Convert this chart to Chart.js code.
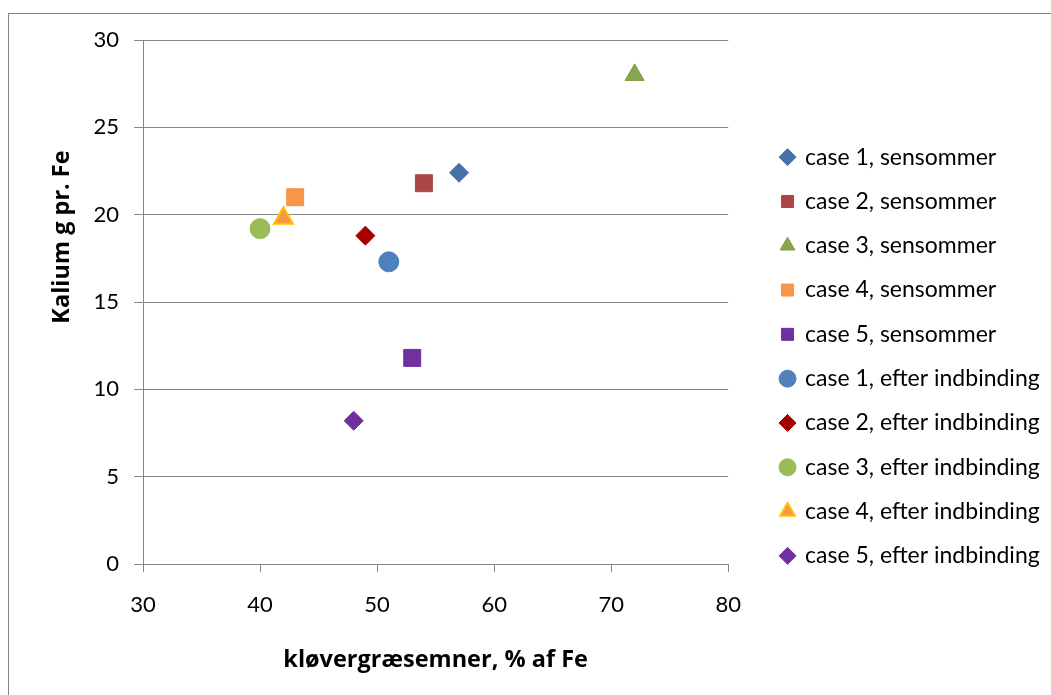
<!DOCTYPE html>
<html>
<head>
<meta charset="utf-8">
<script src="https://cdn.jsdelivr.net/npm/chart.js@4/dist/chart.umd.min.js"></script>
<style>
  html, body { margin: 0; padding: 0; background: #fff; }
  canvas { display: block; }
</style>
</head>
<body>
<canvas id="kalium" width="1051" height="695"></canvas>
<script>
// data
const seriesNames = [
    'case 1, sensommer', 'case 2, sensommer', 'case 3, sensommer', 'case 4, sensommer', 'case 5, sensommer',
    'case 1, efter indbinding', 'case 2, efter indbinding', 'case 3, efter indbinding', 'case 4, efter indbinding', 'case 5, efter indbinding'
];
const kloverValues = [57, 54, 72, 43, 53, 51, 49, 40, 42, 48];
const kaliumValues = [22.4, 21.8, 28, 21, 11.8, 17.3, 18.8, 19.2, 19.8, 8.2];
const xTicks = [30, 40, 50, 60, 70, 80];
const yTicks = [0, 5, 10, 15, 20, 25, 30];

const markerStyles = ['rectRot', 'rect', 'triangle', 'rect', 'rect', 'circle', 'rectRot', 'circle', 'triangle', 'rectRot'];
const fillColors = ['#4572A7', '#AA4643', '#89A54E', '#F79646', '#7030A0', '#4F81BD', '#A50000', '#9BBB59', '#F79646', '#7030A0'];
const edgeColors = ['#4572A7', '#AA4643', '#7E9A45', '#F79646', '#7030A0', '#4F81BD', '#A50000', '#9BBB59', '#FFC000', '#7030A0'];
const sizes = { rectRot: 9.5, rect: 12, triangle: 11, circle: 10 };

const FONT = 'Lato';
const TITLE_FONT = 'Open Sans';
Chart.defaults.font.family = FONT;
Chart.defaults.color = '#000';

const datasets = seriesNames.map(function (name, i) {
    return {
        label: name,
        data: [{ x: kloverValues[i], y: kaliumValues[i] }],
        pointStyle: markerStyles[i],
        pointRadius: sizes[markerStyles[i]],
        pointHoverRadius: sizes[markerStyles[i]],
        backgroundColor: fillColors[i],
        borderColor: edgeColors[i],
        borderWidth: i === 8 ? 2 : 1,
    };
});

// frame round the whole chart and the y title, placed like the original
const frameAndTitle = {
    id: 'frameAndTitle',
    beforeDraw: function (chart) {
        const c = chart.ctx;
        c.save();
        c.fillStyle = '#fff';
        c.fillRect(0, 0, chart.width, chart.height);
        c.strokeStyle = '#868686';
        c.lineWidth = 1;
        c.strokeRect(8.5, 13.5, 1200, 900);
        c.restore();
    },
    afterDraw: function (chart) {
        const c = chart.ctx;
        c.save();
        c.translate(62, 237);
        c.rotate(-Math.PI / 2);
        c.font = 'bold 23.5px "' + TITLE_FONT + '"';
        c.fillStyle = '#000';
        c.textAlign = 'center';
        c.textBaseline = 'middle';
        c.fillText('Kalium g pr. Fe', 0, 0);
        c.restore();
    },
    afterLayout: function (chart) {
        // legend sits a bit right of the plot and a little above centre
        // (its box is clipped, so widen it too)
        chart.legend.left += 32;
        chart.legend.right += 90;
        chart.legend.top -= 11;
        chart.legend.bottom -= 11;
    }
};

var ctx = document.getElementById('kalium');
var myChart = new Chart(ctx, {
    type: 'scatter',
    plugins: [frameAndTitle],
    data: { datasets: datasets },
    options: {
        responsive: false,
        animation: false,
        layout: {
            padding: { top: 40, right: 80, bottom: 0, left: 0 },
        },
        plugins: {
            legend: {
                position: 'right',
                labels: {
                    usePointStyle: true,
                    boxWidth: 12,
                    boxHeight: 12,
                    padding: 21.3,
                    color: '#000',
                    font: { size: 23 },
                },
            },
            tooltip: { enabled: false },
        },
        scales: {
            x: {
                type: 'linear',
                min: 30,
                max: 80,
                afterBuildTicks: function (scale) {
                    scale.ticks = xTicks.map(function (v) { return { value: v }; });
                },
                afterFit: function (scale) { scale.height = 131; },
                ticks: { font: { size: 22 }, padding: 20, color: '#000' },
                grid: { drawOnChartArea: false, drawTicks: true, tickLength: 8, color: '#868686' },
                border: { color: '#868686' },
                title: {
                    display: true,
                    text: 'kløvergræsemner, % af Fe',
                    font: { family: TITLE_FONT, size: 23.5, weight: 'bold' },
                    color: '#000',
                    padding: { top: 0, bottom: 21 },
                },
            },
            y: {
                min: 0,
                max: 30,
                afterBuildTicks: function (scale) {
                    scale.ticks = yTicks.map(function (v) { return { value: v }; });
                },
                afterFit: function (scale) { scale.width = 143; },
                ticks: { font: { size: 22 }, padding: 15, color: '#000' },
                grid: { color: '#868686', tickLength: 9 },
                border: { color: '#868686' },
            },
        },
    },
});
myChart.update();
</script>
</body>
</html>
